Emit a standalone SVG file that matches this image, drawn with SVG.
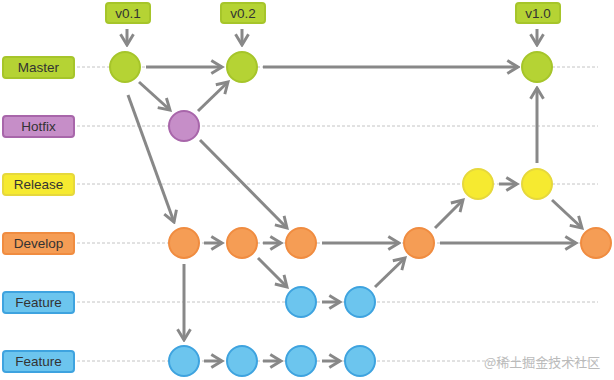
<svg xmlns="http://www.w3.org/2000/svg" width="614" height="380" viewBox="0 0 614 380">
<style>
text{font-family:"Liberation Sans",Arial,sans-serif;font-size:13.5px;fill:#333;text-anchor:middle;dominant-baseline:central}
.lane{stroke:#c4c4c4;stroke-width:1;stroke-dasharray:3,2}
.c{stroke:#888;stroke-width:3;fill:none;marker-end:url(#ah)}
.g{fill:#b5d334;stroke:#a6c52a;stroke-width:2}
.p{fill:#c68ec8;stroke:#a866aa;stroke-width:2}
.y{fill:#f6ea30;stroke:#e6d83c;stroke-width:2}
.o{fill:#f59d55;stroke:#f08c40;stroke-width:2}
.b{fill:#6cc5ee;stroke:#3ea3df;stroke-width:2}
.wm{font-family:"Noto Sans CJK SC","Liberation Sans",sans-serif;fill:#bbb;font-size:13px;text-anchor:start}
</style>
<defs>
<marker id="ah" viewBox="0 0 10 10" refX="8.6" refY="5" markerWidth="5.4" markerHeight="5.4" orient="auto" markerUnits="strokeWidth">
<path d="M2,1 L8.6,5 L2,9" fill="none" stroke="#888" stroke-width="1.8"/>
</marker>
</defs>
<rect width="614" height="380" fill="#fff"/>
<g id="lanes">
<line class="lane" x1="77" y1="67" x2="598" y2="67"/>
<line class="lane" x1="77" y1="126" x2="598" y2="126"/>
<line class="lane" x1="77" y1="184" x2="598" y2="184"/>
<line class="lane" x1="77" y1="243" x2="598" y2="243"/>
<line class="lane" x1="77" y1="302" x2="598" y2="302"/>
<line class="lane" x1="77" y1="361" x2="598" y2="361"/>
</g>
<g id="label-master"><rect class="g" x="3" y="57" width="71" height="21" rx="3"/><text x="38.5" y="67.5">Master</text></g>
<g id="label-hotfix"><rect class="p" x="3" y="116" width="71" height="21" rx="3"/><text x="38.5" y="126.5">Hotfix</text></g>
<g id="label-release"><rect class="y" x="3" y="174" width="71" height="21" rx="3"/><text x="38.5" y="184.5">Release</text></g>
<g id="label-develop"><rect class="o" x="3" y="233" width="71" height="21" rx="3"/><text x="38.5" y="243.5">Develop</text></g>
<g id="label-feature1"><rect class="b" x="3" y="292" width="71" height="21" rx="3"/><text x="38.5" y="302.5">Feature</text></g>
<g id="label-feature2"><rect class="b" x="3" y="351" width="71" height="21" rx="3"/><text x="38.5" y="361.5">Feature</text></g>
<g id="tag-v01"><rect class="g" x="106" y="3" width="44" height="20" rx="3"/><text x="128" y="13.5">v0.1</text></g>
<g id="tag-v02"><rect class="g" x="221" y="3" width="44" height="20" rx="3"/><text x="243" y="13.5">v0.2</text></g>
<g id="tag-v10"><rect class="g" x="516" y="3" width="44" height="20" rx="3"/><text x="538" y="13.5">v1.0</text></g>
<g id="connectors">
<line class="c" x1="127" y1="29" x2="127" y2="45"/>
<line class="c" x1="242" y1="29" x2="242" y2="45"/>
<line class="c" x1="537" y1="29" x2="537" y2="45"/>
<line class="c" x1="146" y1="67" x2="222" y2="67"/>
<line class="c" x1="263" y1="67" x2="518" y2="67"/>
<line class="c" x1="139" y1="82" x2="170" y2="110"/>
<line class="c" x1="198" y1="111" x2="228" y2="82"/>
<line class="c" x1="128" y1="95" x2="174" y2="222"/>
<line class="c" x1="200" y1="140" x2="287" y2="228"/>
<line class="c" x1="204" y1="243" x2="222" y2="243"/>
<line class="c" x1="263" y1="243" x2="281" y2="243"/>
<line class="c" x1="184" y1="264" x2="184" y2="340"/>
<line class="c" x1="258" y1="258" x2="287" y2="287"/>
<line class="c" x1="322" y1="243" x2="399" y2="243"/>
<line class="c" x1="322" y1="302" x2="340" y2="302"/>
<line class="c" x1="375" y1="287" x2="405" y2="258"/>
<line class="c" x1="435" y1="228" x2="463" y2="200"/>
<line class="c" x1="499" y1="184" x2="517" y2="184"/>
<line class="c" x1="537" y1="163" x2="537" y2="88"/>
<line class="c" x1="552" y1="200" x2="582" y2="228"/>
<line class="c" x1="440" y1="243" x2="576" y2="243"/>
<line class="c" x1="204" y1="361" x2="222" y2="361"/>
<line class="c" x1="263" y1="361" x2="281" y2="361"/>
<line class="c" x1="322" y1="361" x2="340" y2="361"/>
</g>
<g id="m1"><circle class="g" cx="125" cy="67" r="15"/></g>
<g id="m2"><circle class="g" cx="242" cy="67" r="15"/></g>
<g id="m3"><circle class="g" cx="537" cy="67" r="15"/></g>
<g id="h1"><circle class="p" cx="184" cy="126" r="15"/></g>
<g id="r1"><circle class="y" cx="478" cy="184" r="15"/></g>
<g id="r2"><circle class="y" cx="537" cy="184" r="15"/></g>
<g id="d1"><circle class="o" cx="184" cy="243" r="15"/></g>
<g id="d2"><circle class="o" cx="242" cy="243" r="15"/></g>
<g id="d3"><circle class="o" cx="301" cy="243" r="15"/></g>
<g id="d4"><circle class="o" cx="419" cy="243" r="15"/></g>
<g id="d5"><circle class="o" cx="596" cy="243" r="15"/></g>
<g id="f1a"><circle class="b" cx="301" cy="302" r="15"/></g>
<g id="f1b"><circle class="b" cx="360" cy="302" r="15"/></g>
<g id="f2a"><circle class="b" cx="184" cy="361" r="15"/></g>
<g id="f2b"><circle class="b" cx="242" cy="361" r="15"/></g>
<g id="f2c"><circle class="b" cx="301" cy="361" r="15"/></g>
<g id="f2d"><circle class="b" cx="360" cy="361" r="15"/></g>
<text class="wm" x="484" y="361">@稀土掘金技术社区</text>
</svg>
